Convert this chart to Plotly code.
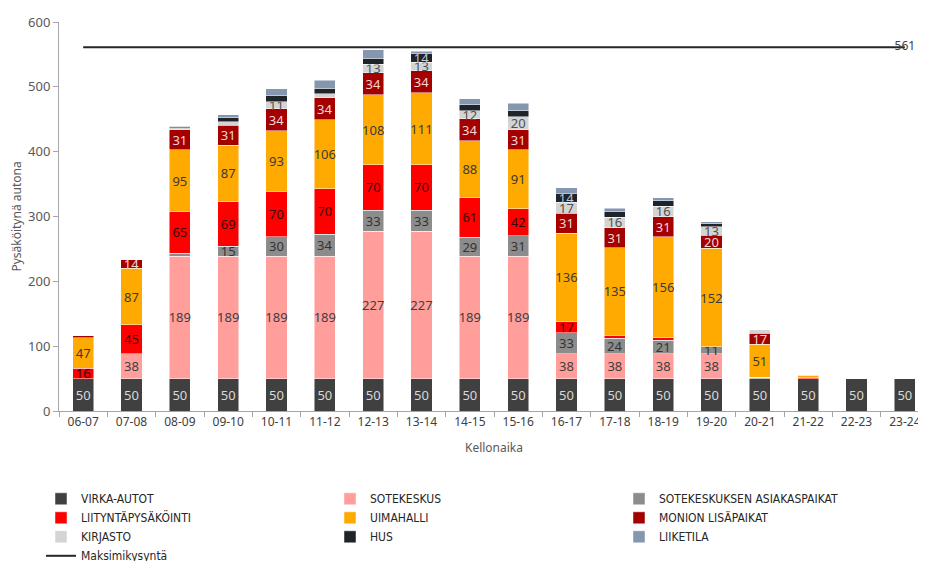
import plotly.graph_objects as go

HOURS = ["06-07", "07-08", "08-09", "09-10", "10-11", "11-12", "12-13", "13-14", "14-15",
         "15-16", "16-17", "17-18", "18-19", "19-20", "20-21", "21-22", "22-23", "23-24"]

VIRKA_AUTOT = [50, 50, 50, 50, 50, 50, 50, 50, 50, 50, 50, 50, 50, 50, 50, 50, 50, 50]
SOTEKESKUS = [0, 38, 189, 189, 189, 189, 227, 227, 189, 189, 38, 38, 38, 38, 0, 0, 0, 0]
ASIAKASPAIKAT = [0, 0, 4, 15, 30, 34, 33, 33, 29, 31, 33, 24, 21, 11, 2, 0, 0, 0]
LIITYNTA = [16, 45, 65, 69, 70, 70, 70, 70, 61, 42, 17, 5, 4, 0, 0, 2, 0, 0]
UIMAHALLI = [47, 87, 95, 87, 93, 106, 108, 111, 88, 91, 136, 135, 156, 152, 51, 3, 0, 0]
MONION = [3, 14, 31, 31, 34, 34, 34, 34, 34, 31, 31, 31, 31, 20, 17, 2, 0, 0]
KIRJASTO = [0, 0, 3, 5, 11, 6, 13, 13, 12, 20, 17, 16, 16, 13, 5, 0, 0, 0]
HUS = [0, 0, 2, 6, 9, 9, 9, 14, 9, 9, 14, 9, 8, 5, 0, 0, 0, 0]
LIIKETILA = [0, 0, 0, 5, 11, 12, 13, 3, 10, 12, 8, 5, 5, 3, 0, 0, 0, 0]
MAX_DEMAND = 561

# (name, values, bar colour, label colour, show labels)
SERIES = [
    ("VIRKA-AUTOT", VIRKA_AUTOT, "#404040", "#D9D9D9", True),
    ("SOTEKESKUS", SOTEKESKUS, "#FF9E9A", "#404040", True),
    ("SOTEKESKUKSEN ASIAKASPAIKAT", ASIAKASPAIKAT, "#8C8C8C", "#333333", True),
    ("LIITYNTÄPYSÄKÖINTI", LIITYNTA, "#FF0000", "#3A0A0A", True),
    ("UIMAHALLI", UIMAHALLI, "#FFAA00", "#3A3A3A", True),
    ("MONION LISÄPAIKAT", MONION, "#A50000", "#F4D6D6", True),
    ("KIRJASTO", KIRJASTO, "#D4D4D4", "#505050", True),
    ("HUS", HUS, "#1F242B", "#B8C8D8", True),
    ("LIIKETILA", LIIKETILA, "#8496B0", "#FFFFFF", False),
]

FONT = "Noto Sans, sans-serif"

fig = go.Figure()
for name, vals, color, tcolor, show in SERIES:
    labels = [str(v) if (show and v >= 10) else "" for v in vals]
    fig.add_trace(go.Bar(
        x=HOURS, y=vals, name=name,
        marker=dict(color=color, line=dict(color="rgba(255,255,255,0.6)", width=0.8)),
        text=labels, textposition="inside", insidetextanchor="middle",
        textangle=0, constraintext="none",
        textfont=dict(color=tcolor, size=13, family=FONT),
        hoverinfo="x+y+name",
    ))

fig.add_trace(go.Scatter(
    x=HOURS, y=[MAX_DEMAND] * len(HOURS), name="Maksimikysyntä",
    mode="lines+text",
    text=[""] * (len(HOURS) - 1) + [str(MAX_DEMAND)],
    textposition="middle center",
    textfont=dict(size=12, color="#404040", family=FONT),
    line=dict(color="#262626", width=2),
))

fig.update_layout(
    barmode="stack", bargap=0.56,
    width=926, height=561,
    # page body adds an 8px offset, margins compensate for it
    margin=dict(l=51, r=5, t=14, b=158),
    plot_bgcolor="white", paper_bgcolor="white",
    font=dict(family=FONT, size=12, color="#595959"),
    uniformtext=dict(minsize=12, mode="show"),
    xaxis=dict(
        type="category", range=[-0.5, len(HOURS) - 0.5],
        showline=True, linecolor="#A6A6A6", linewidth=1,
        ticks="outside", tickson="boundaries", tickcolor="#A6A6A6", ticklen=5,
        tickfont=dict(size=12, color="#404040"), automargin=False,
        title=dict(text="Kellonaika", font=dict(size=12, color="#595959"), standoff=14),
    ),
    yaxis=dict(
        range=[0, 600], dtick=100, showgrid=False, zeroline=False,
        showline=True, linecolor="#A6A6A6", linewidth=1,
        ticks="outside", tickcolor="#A6A6A6", ticklen=5,
        tickfont=dict(size=13, color="#595959"), automargin=False,
        title=dict(text="Pysäköitynä autona", font=dict(size=12, color="#595959"), standoff=8),
    ),
    legend=dict(
        orientation="h", x=33 / 926, xref="container", xanchor="left",
        y=0.151, yref="container", yanchor="top",
        entrywidth=244, entrywidthmode="pixels", traceorder="normal",
        font=dict(family="DejaVu Sans Condensed, Liberation Sans Narrow, sans-serif",
                  size=12, color="#262626"),
        itemwidth=30, tracegroupgap=0,
    ),
)

fig.write_html("out.html")
